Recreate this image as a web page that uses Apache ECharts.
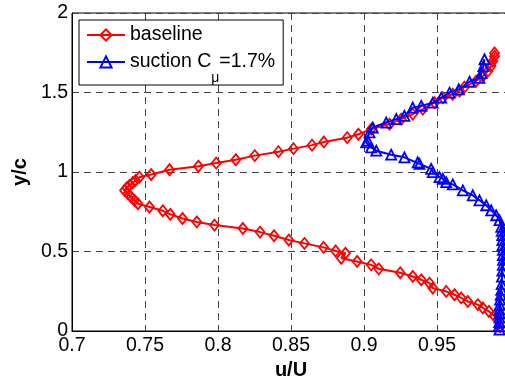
<!DOCTYPE html>
<html>
<head>
<meta charset="utf-8">
<script src="https://cdn.jsdelivr.net/npm/echarts@6/dist/echarts.min.js"></script>
<style>html,body{margin:0;padding:0;background:#fff;}#c{width:505px;height:381px;}</style>
</head>
<body>
<div id="c"></div>
<script>
// x tick values and y tick values
var xTicks = [0.7, 0.75, 0.8, 0.85, 0.9, 0.95, 1];
var yTicks = [0, 0.5, 1, 1.5, 2];

// baseline (u/U, y/c), ordered from bottom to top
var baselineU = [0.9933,0.9916,0.9894,0.9855,0.9814,0.978,0.9711,0.9666,0.962,0.9563,0.9471,0.9449,0.9392,0.9334,0.9248,0.9101,0.9049,0.8953,0.8844,0.8873,0.8806,0.8723,0.8592,0.8485,0.8384,0.8288,0.817,0.7976,0.7855,0.7757,0.7673,0.7622,0.7531,0.7452,0.7428,0.7405,0.7382,0.736,0.7375,0.7394,0.7416,0.7435,0.7462,0.7542,0.7668,0.7866,0.7988,0.8122,0.8252,0.8414,0.8517,0.8644,0.8725,0.8885,0.8962,0.905,0.9175,0.9255,0.9334,0.9403,0.9483,0.954,0.9608,0.9654,0.9688,0.9768,0.9814,0.9848,0.9871,0.9882,0.9894,0.9894];
var baselineY = [0.026,0.072,0.093,0.124,0.145,0.166,0.186,0.208,0.228,0.249,0.27,0.301,0.322,0.343,0.366,0.391,0.416,0.4375,0.4575,0.489,0.503,0.526,0.551,0.572,0.599,0.622,0.645,0.666,0.686,0.7075,0.734,0.756,0.78,0.8,0.822,0.8425,0.864,0.884,0.901,0.916,0.9325,0.947,0.9675,0.984,1.014,1.036,1.056,1.077,1.103,1.128,1.147,1.169,1.189,1.216,1.2375,1.27,1.301,1.3325,1.364,1.395,1.436,1.4675,1.489,1.509,1.534,1.572,1.603,1.634,1.666,1.697,1.728,1.749];

// suction Cmu = 1.7% (u/U, y/c), ordered from bottom to top
var suctionU = [0.9928,0.9923,0.9926,0.9928,0.993,0.9928,0.993,0.9932,0.9936,0.994,0.9943,0.9945,0.9948,0.9951,0.9952,0.9951,0.9951,0.9949,0.9948,0.9947,0.9944,0.994,0.9928,0.9905,0.9871,0.9837,0.9791,0.9745,0.9677,0.9608,0.9563,0.954,0.9517,0.9471,0.946,0.938,0.9368,0.9277,0.9186,0.9084,0.9049,0.9015,0.9026,0.9038,0.906,0.9152,0.9221,0.9277,0.9334,0.9392,0.9471,0.9529,0.9586,0.9649,0.9723,0.9791,0.9805,0.9818,0.9825];
var suctionY = [0.009,0.03,0.056,0.084,0.11,0.134,0.165,0.197,0.228,0.259,0.295,0.3425,0.38,0.416,0.447,0.478,0.51,0.541,0.572,0.603,0.63,0.655,0.697,0.728,0.759,0.791,0.822,0.853,0.884,0.922,0.936,0.9575,0.9675,0.999,1.02,1.051,1.061,1.0925,1.109,1.134,1.155,1.186,1.197,1.249,1.28,1.311,1.3325,1.353,1.405,1.416,1.436,1.4675,1.499,1.52,1.5675,1.5925,1.622,1.666,1.709,1.759];

function pairs(xs, ys) { return xs.map(function (x, i) { return [x, ys[i]]; }); }

var FONT = '"Liberation Sans", Arial, Helvetica, sans-serif';
var chart = echarts.init(document.getElementById('c'), null, {renderer: 'canvas'});
var dash = {color: '#444', type: [7, 5], width: 1};

chart.setOption({
  animation: false,
  backgroundColor: '#fff',
  textStyle: {fontFamily: FONT},
  grid: {left: 72, right: -5, top: 13, bottom: 50, containLabel: false, outerBoundsMode: 'none',
         show: true, borderColor: '#000', borderWidth: 1, backgroundColor: 'transparent'},
  xAxis: {
    type: 'value', min: xTicks[0], max: xTicks[xTicks.length - 1], interval: 0.05,
    name: 'u/U', nameLocation: 'middle', nameGap: 28,
    nameTextStyle: {fontFamily: FONT, fontWeight: 'bold', fontSize: 20, color: '#000'},
    axisLine: {show: true, lineStyle: {color: '#000', width: 1}},
    axisTick: {show: false},
    axisLabel: {fontFamily: FONT, fontSize: 19.5, color: '#000', margin: 5, showMaxLabel: false, hideOverlap: false},
    splitLine: {show: true, lineStyle: dash}
  },
  yAxis: {
    type: 'value', min: yTicks[0], max: yTicks[yTicks.length - 1], interval: 0.5,
    name: 'y/c', nameLocation: 'middle', nameGap: 40,
    nameTextStyle: {fontFamily: FONT, fontWeight: 'bold', fontSize: 20, color: '#000'},
    axisLine: {show: true, lineStyle: {color: '#000', width: 1}},
    axisTick: {show: false},
    axisLabel: {fontFamily: FONT, fontSize: 19.5, color: '#000', margin: 4, padding: [2, 0, 0, 0], hideOverlap: false},
    splitLine: {show: true, lineStyle: dash}
  },
  legend: {
    orient: 'vertical', left: 79, top: 20,
    padding: [5, 8, 0, 7], itemGap: -6,
    itemWidth: 38, itemHeight: 14,
    backgroundColor: '#fff', borderColor: '#000', borderWidth: 1,
    data: ['baseline', 'suction'],
    formatter: function (name) {
      return name === 'baseline' ? '{a|baseline}' : '{a|suction C}{sub|\u03bc}{a|=1.7%}';
    },
    textStyle: {
      color: '#000', fontFamily: FONT,
      rich: {
        a: {fontFamily: FONT, fontSize: 19.5, lineHeight: 20, color: '#000'},
        sub: {fontFamily: FONT, fontSize: 14, lineHeight: 14, padding: [32, 0, 0, 0], color: '#000'}
      }
    }
  },
  series: [
    {
      name: 'baseline', type: 'line', data: pairs(baselineU, baselineY),
      symbol: 'diamond', symbolSize: [9, 11], showAllSymbol: true,
      lineStyle: {color: '#ff0000', width: 2},
      itemStyle: {color: 'rgba(255,255,255,0)', borderColor: '#ff0000', borderWidth: 1.8},
      z: 2
    },
    {
      name: 'suction', type: 'line', data: pairs(suctionU, suctionY),
      symbol: 'triangle', symbolSize: 10, showAllSymbol: true,
      lineStyle: {color: '#0000ff', width: 2},
      itemStyle: {color: 'rgba(255,255,255,0)', borderColor: '#0000ff', borderWidth: 1.8},
      z: 3
    }
  ]
});
</script>
</body>
</html>
